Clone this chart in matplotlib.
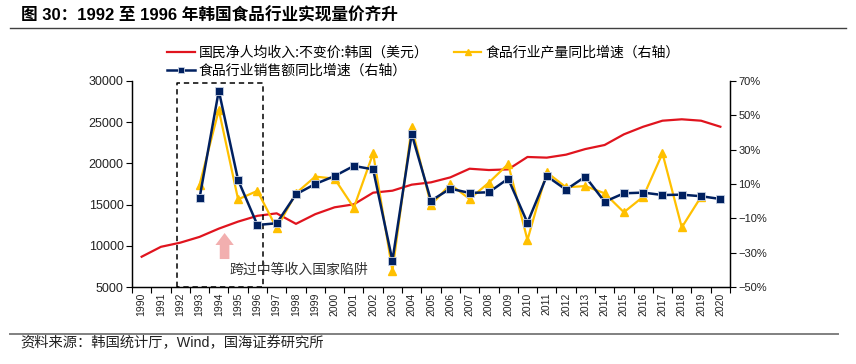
import matplotlib
matplotlib.use("Agg")
import matplotlib.pyplot as plt
import numpy as np
from matplotlib.patches import FancyArrow
from matplotlib.lines import Line2D

plt.rcParams['font.family'] = ['Liberation Sans', 'Noto Sans CJK SC', 'DejaVu Sans']
plt.rcParams['axes.unicode_minus'] = True

years = [str(y) for y in range(1990, 2021)]

income = [8700, 9900, 10400, 11100, 12100, 12950, 13650, 13950, 12680, 13850,
          14680, 15040, 16450, 16690, 17420, 17700, 18300, 19350, 19190, 19270,
          20770, 20690, 21050, 21730, 22220, 23510, 24430, 25160, 25330, 25160,
          24430]

sales_years = years[3:]
sales = [1.7, 64.2, 12.3, -13.8, -12.8, 4.0, 10.0, 14.6, 20.5, 18.5,
         -34.5, 39.0, 0.3, 7.3, 4.8, 5.2, 13.1, -12.5, 14.6, 6.7,
         14.3, -0.3, 4.6, 5.0, 3.6, 3.8, 2.9, 1.3]

prod_years = years[3:30]
prod = [9.4, 53.0, 1.1, 6.0, -15.7, 4.6, 14.3, 13.1, -3.8, 27.8,
        -40.4, 43.0, -2.2, 9.8, 1.3, 10.8, 21.6, -22.5, 16.8, 8.1,
        8.8, 4.6, -6.4, 2.6, 27.8, -15.2, 2.6]

left_ticks = [5000, 10000, 15000, 20000, 25000, 30000]
right_ticks = [-50, -30, -10, 10, 30, 50, 70]

RED = '#E0141E'
YEL = '#FFC000'
NAVY = '#002060'

fig = plt.figure(figsize=(8.56, 3.64), dpi=100)
ax = fig.add_axes([0.1542, 0.2107, 0.8528 - 0.1542, 0.7783 - 0.2107])
ax2 = ax.twinx()

x_all = np.arange(len(years))
idx = {y: i for i, y in enumerate(years)}

ax.plot(x_all, income, color=RED, lw=1.6, zorder=3)
ax2.plot([idx[y] for y in prod_years], prod, color=YEL, lw=1.6, marker='^',
         ms=5.5, mec=YEL, zorder=3)
ax2.plot([idx[y] for y in sales_years], sales, color=NAVY, lw=1.8, marker='s',
         ms=5.5, mec='#c9d2e3', mew=0.6, zorder=4)

ax.set_xlim(-0.5, len(years) - 0.5)
ax.set_ylim(5000, 30000)
ax2.set_ylim(-50, 70)
ax.set_yticks(left_ticks)
ax.set_yticklabels([str(v) for v in left_ticks], fontsize=9, color='#222222')
ax2.set_yticks(right_ticks)
ax2.set_yticklabels([(('\u2212' if v < 0 else '') + f'{abs(v)}%') for v in right_ticks],
                    fontsize=8, color='#222222')

ax.set_xticks(x_all)
ax.set_xticklabels(years, rotation=90, fontsize=7.5, color='#222222')
ax.tick_params(axis='x', which='major', length=0, pad=4)
ax.set_xticks(np.arange(-0.5, len(years), 1.0), minor=True)
ax.tick_params(axis='x', which='minor', length=4, width=0.8, direction='out')
ax.tick_params(axis='y', length=4, width=0.8, direction='out', pad=2)
ax2.tick_params(axis='y', length=4, width=0.8, direction='out', pad=2)

for a in (ax, ax2):
    a.spines['top'].set_visible(False)
    for s in ('left', 'right', 'bottom'):
        a.spines[s].set_linewidth(0.9)
        a.spines[s].set_color('black')

# dashed box around 1992-1996
bx0, bx1, by1 = 1.85, 6.3, 29760
ax.plot([bx0, bx0, bx1, bx1, bx0], [5000, by1, by1, 5000, 5000], color='black',
        lw=1.1, ls=(0, (3.5, 2.5)), zorder=5, clip_on=False)

# arrow
ax.add_patch(FancyArrow(4.3, 8420, 0, 3150, width=0.5, head_width=0.95,
                        head_length=1450, length_includes_head=True,
                        color='#F2AFAF', lw=0, zorder=2))
ax.text(4.55, 7100, '跨过中等收入国家陷阱', fontsize=10, color='#333333',
        family=['Noto Sans CJK SC'], va='center', ha='left', zorder=6)

handles = [Line2D([], [], color=RED, lw=1.6),
           Line2D([], [], color=NAVY, lw=1.8, marker='s', ms=5, mec='#c9d2e3', mew=0.6),
           Line2D([], [], color=YEL, lw=1.6, marker='^', ms=5)]
labels = ['国民净人均收入:不变价:韩国（美元）', '食品行业销售额同比增速（右轴）',
          '食品行业产量同比增速（右轴）']
fig.legend(handles, labels, ncol=2, loc='upper left', bbox_to_anchor=(0.195, 0.875),
           frameon=False, prop={'family': ['Noto Sans CJK SC'], 'size': 10},
           handlelength=2.0, handletextpad=0.3, columnspacing=1.8, labelspacing=0.3,
           borderaxespad=0, borderpad=0)

fig.text(0.024, 0.957, '图 30：1992 至 1996 年韩国食品行业实现量价齐升', fontsize=12,
         fontweight='bold', va='center', ha='left', color='black')
fig.add_artist(Line2D([0.012, 0.988], [0.923, 0.923], color='#404040', lw=1.0))
fig.add_artist(Line2D([0.012, 0.979], [0.082, 0.082], color='#808080', lw=1.4))
fig.text(0.024, 0.057, '资料来源：韩国统计厅，Wind，国海证券研究所', fontsize=10.3,
         va='center', ha='left', color='#222222')

fig.savefig('out.png', dpi=100)
